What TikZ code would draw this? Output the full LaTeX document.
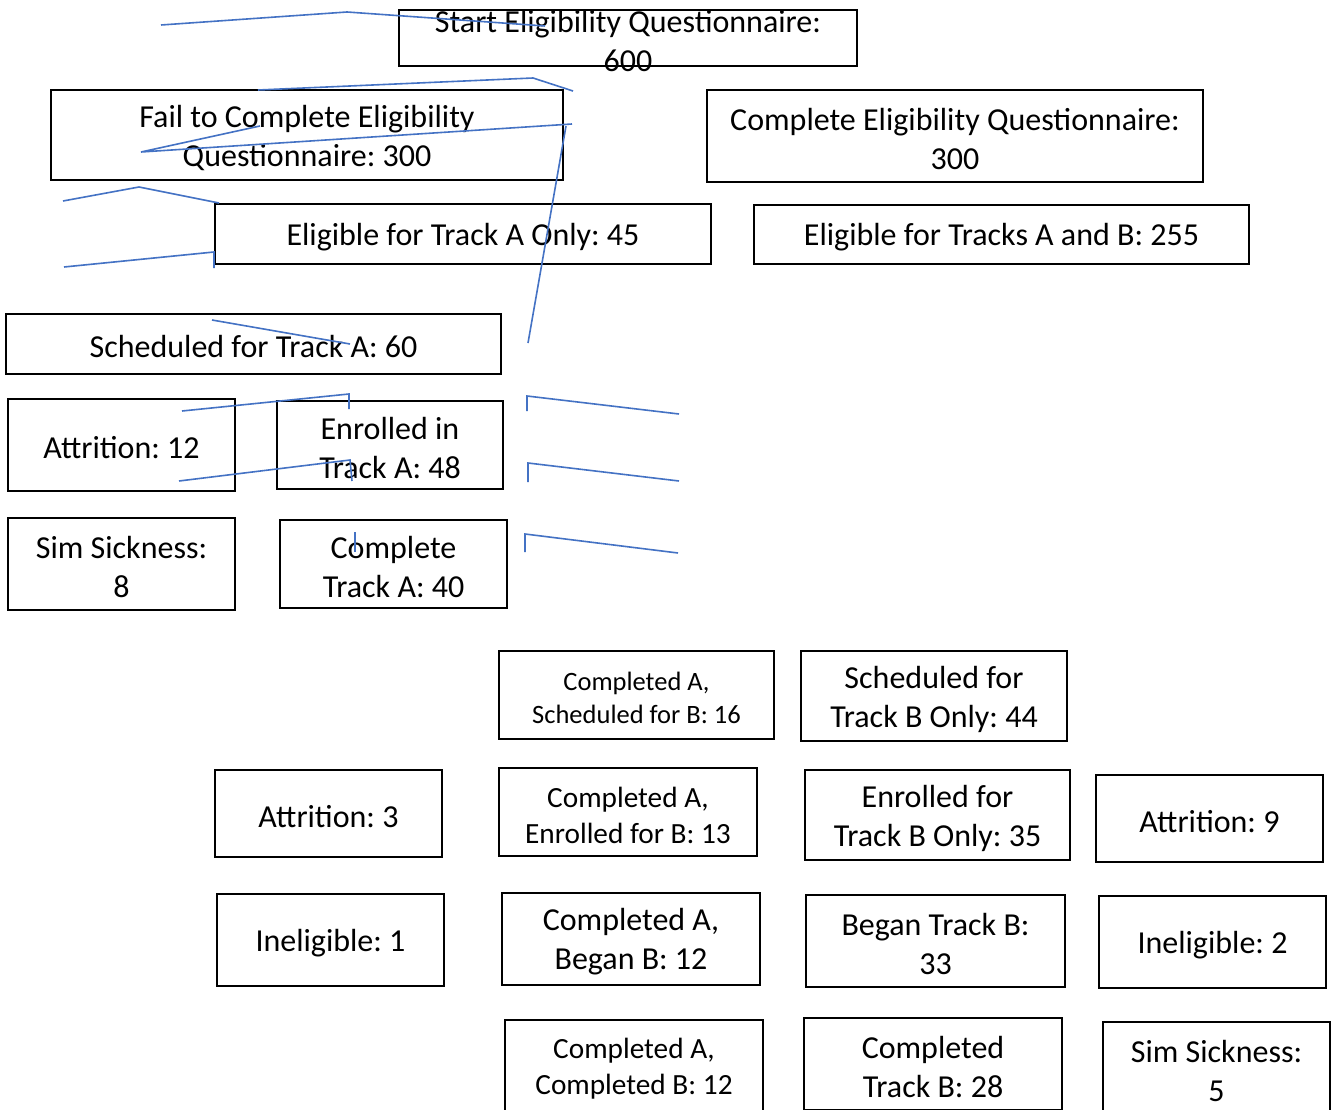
\documentclass[tikz,border=0pt]{standalone}
\usepackage{fontspec}
\setmainfont{Carlito}
\definecolor{conblue}{HTML}{4472C4}
% \bx{name}{x}{y}{w}{h}{text style}{text}: frame node (name) and its text node (name-t)
\newcommand\bx[7]{%
  \node[frame, minimum width=#4, minimum height=#5] (#1) at (#2,#3) {};
  \node[#6] (#1-t) at ([yshift=-3pt]#1.center) {#7};}
\begin{document}
\frenchspacing
\begin{tikzpicture}[x=1pt,y=-1pt,
  frame/.style={draw=black, line width=1.1pt, inner sep=0pt},
  txt/.style={inner sep=0pt, align=center, font=\fontsize{32}{39}\selectfont\frenchspacing},
  smalltxt/.style={txt, font=\fontsize{26.5}{32.3}\selectfont\frenchspacing},
  midtxt/.style={txt, font=\fontsize{29.3}{36}\selectfont\frenchspacing},
  con/.style={draw=conblue, line width=1.6pt}]
\useasboundingbox (0,0) rectangle (1333,1110);
\clip (0,0) rectangle (1333,1110);
\fill[white] (0,0) rectangle (1333,1110);

% boxes
\bx{start}{628}{38}{458}{56}{txt}{Start Eligibility Questionnaire:\\600}
\bx{fail}{307}{135}{512}{90}{txt}{Fail to Complete Eligibility\\Questionnaire: 300}
\bx{compl}{955}{136}{496}{92}{txt}{Complete Eligibility Questionnaire:\\300}
\bx{eligA}{463}{234}{496}{60}{txt}{Eligible for Track A Only: 45}
\bx{eligAB}{1001.5}{234.5}{495}{59}{txt}{Eligible for Tracks A and B: 255}
\bx{schedA}{253.5}{344}{495}{60}{txt}{Scheduled for Track A: 60}
\bx{attr12}{121.5}{445}{227}{92}{txt}{Attrition: 12}
\bx{enrA}{390}{445}{226}{88}{txt}{Enrolled in\\Track A: 48}
\bx{sim8}{121.5}{564}{227}{92}{txt}{Sim Sickness:\\8}
\bx{compA}{393.5}{564}{227}{88}{txt}{Complete\\Track A: 40}
\bx{cAsB}{636.5}{695}{275}{88}{smalltxt}{Completed A,\\Scheduled for B: 16}
\bx{schedB}{934}{696}{266}{90}{txt}{Scheduled for\\Track B Only: 44}
\bx{attr3}{328.5}{813.5}{227}{87}{txt}{Attrition: 3}
\bx{cAeB}{628}{812}{258}{88}{midtxt}{Completed A,\\Enrolled for B: 13}
\bx{enrB}{937.5}{815}{265}{90}{txt}{Enrolled for\\Track B Only: 35}
\bx{attr9}{1209.5}{818.5}{227}{87}{txt}{Attrition: 9}
\bx{inel1}{330.5}{940}{227}{92}{txt}{Ineligible: 1}
\bx{cAbB}{631}{939}{258}{92}{txt}{Completed A,\\Began B: 12}
\bx{beganB}{935.5}{941}{259}{92}{txt}{Began Track B:\\33}
\bx{inel2}{1212.5}{942}{227}{92}{txt}{Ineligible: 2}
\bx{cAcB}{634}{1066}{258}{92}{midtxt}{Completed A,\\Completed B: 12}
\bx{complB}{933}{1064}{258}{92}{txt}{Completed\\Track B: 28}
\bx{sim5}{1216.5}{1068}{227}{92}{txt}{Sim Sickness:\\5}

% connector points
\coordinate (a1) at (161,25);  \coordinate (a2) at (347,12);  \coordinate (a3) at (545,26);
\coordinate (b1) at (258,90);  \coordinate (b2) at (533,78);  \coordinate (b3) at (573,91);
\coordinate (c1) at (260,126); \coordinate (c2) at (141,152); \coordinate (c3) at (572,124);
\coordinate (d1) at (566,126); \coordinate (d2) at (528,343);
\coordinate (e1) at (63,201);  \coordinate (e2) at (139,187); \coordinate (e3) at (219,203);
\coordinate (f1) at (64,267);  \coordinate (f2) at (214,252); \coordinate (f3) at (214,268);
\coordinate (g1) at (212,320); \coordinate (g2) at (350,344);
\coordinate (h1) at (182,411); \coordinate (h2) at (349,394); \coordinate (h3) at (349,409);
\coordinate (i1) at (179,481); \coordinate (i2) at (350,460); \coordinate (i3) at (352,481);
\coordinate (j1) at (527,411); \coordinate (j2) at (527,396); \coordinate (j3) at (679,414);
\coordinate (k1) at (528,482); \coordinate (k2) at (528,463); \coordinate (k3) at (679,481);
\coordinate (l1) at (525,552); \coordinate (l2) at (525,534); \coordinate (l3) at (678,553);
\coordinate (m1) at (355,532); \coordinate (m2) at (355,552);

% connectors
\draw[con] (a1) -- (a2) -- (a3);
\draw[con] (b1) -- (b2) -- (b3);
\draw[con] (c1) -- (c2) -- (c3);
\draw[con] (d1) -- (d2);
\draw[con] (e1) -- (e2) -- (e3);
\draw[con] (f1) -- (f2) -- (f3);
\draw[con] (g1) -- (g2);
\draw[con] (h1) -- (h2) -- (h3);
\draw[con] (i1) -- (i2) -- (i3);
\draw[con] (j1) -- (j2) -- (j3);
\draw[con] (k1) -- (k2) -- (k3);
\draw[con] (l1) -- (l2) -- (l3);
\draw[con] (m1) -- (m2);
\end{tikzpicture}
\end{document}
